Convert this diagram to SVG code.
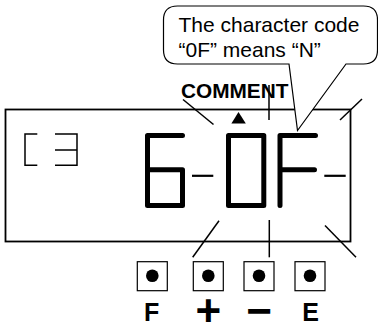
<svg xmlns="http://www.w3.org/2000/svg" width="378" height="324" viewBox="0 0 378 324">
<style>
.seg{fill:none;stroke:#000;stroke-width:5;stroke-linecap:round;stroke-linejoin:round}
.thin{fill:none;stroke:#000;stroke-width:1.5}
.ray{stroke:#000;stroke-width:1.5}
.dash{stroke:#000;stroke-width:2.2}
.btn{fill:#fff;stroke:#000;stroke-width:1.2}
.lbl{font-family:"Liberation Sans",Arial,sans-serif;font-weight:bold;text-anchor:middle}
.txt{font-family:"Liberation Sans",Arial,sans-serif;font-size:21px}
</style>
<rect width="378" height="324" fill="#fff"/>
<g id="display">
<rect x="5.5" y="109.5" width="345" height="132" fill="none" stroke="#000" stroke-width="1.8"/>
<path class="thin" d="M37.3 134 H25 V165.3 H37.3 M55 134 H77 V165.3 H55 M55 150 H77"/>
<path class="seg" d="M182.5 135.5 H147.5 V205.5 H182.5 V169.8 H147.5"/>
<rect class="seg" x="228.5" y="135.5" width="35.3" height="70"/>
<path class="seg" d="M315.5 135.5 H280 V205.5 M280 169.8 H314.5"/>
<line class="dash" x1="192" y1="175.8" x2="213.3" y2="175.8"/>
<line class="dash" x1="324.3" y1="175.8" x2="345.7" y2="175.8"/>
<path d="M238.5 112 L245.8 123.4 L231.4 123.4 Z" fill="#000"/>
</g>
<g id="connectors">
<line class="ray" x1="183" y1="99.5" x2="213.5" y2="124.5"/>
<line class="ray" x1="269" y1="85" x2="269" y2="120"/>
<line class="ray" x1="340" y1="120" x2="362" y2="99"/>
<line class="ray" x1="219" y1="220.7" x2="192.7" y2="257.3"/>
<line class="ray" x1="269.3" y1="220" x2="269.3" y2="257.3"/>
<line class="ray" x1="325" y1="225.5" x2="356" y2="257.3"/>
</g>
<g id="comment">
<text x="181" y="98.3" class="lbl" style="font-size:20.8px;text-anchor:start">COMMENT</text>
</g>
<g id="callout">
<path d="M177.5 6 H363.5 Q377.5 6 377.5 20 V50 Q377.5 64 363.5 64 H346 L297.5 130.5 L289 64 H177.5 Q163.5 64 163.5 50 V20 Q163.5 6 177.5 6 Z" fill="#fff" stroke="#000" stroke-width="1.2"/>
<text x="178.5" y="31.5" class="txt">The character code</text>
<text x="178.5" y="56.5" class="txt">“0F” means “N”</text>
</g>
<g id="btn-f">
<rect class="btn" x="137.3" y="261.7" width="30" height="29"/>
<circle cx="152.3" cy="275.7" r="6.3"/>
<text x="151.7" y="320.5" class="lbl" style="font-size:25px">F</text>
</g>
<g id="btn-plus">
<rect class="btn" x="193.3" y="261.7" width="30" height="29"/>
<circle cx="208.3" cy="275.7" r="6.3"/>
<text x="208.3" y="325.5" class="lbl" style="font-size:44px">+</text>
</g>
<g id="btn-minus">
<rect class="btn" x="244" y="261.7" width="30" height="29"/>
<circle cx="259" cy="275.7" r="6.3"/>
<text x="259" y="325.5" class="lbl" style="font-size:44px">−</text>
</g>
<g id="btn-e">
<rect class="btn" x="295" y="261.7" width="30" height="29"/>
<circle cx="310" cy="275.7" r="6.3"/>
<text x="310.7" y="320.5" class="lbl" style="font-size:25px">E</text>
</g>
</svg>
